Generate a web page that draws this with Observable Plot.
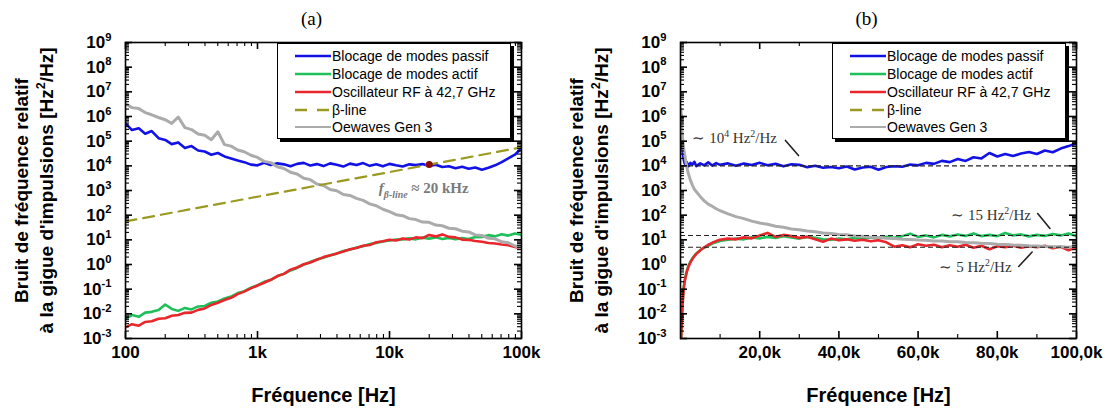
<!DOCTYPE html>
<html><head><meta charset="utf-8">
<script src="https://cdn.jsdelivr.net/npm/d3@7"></script>
<script src="https://cdn.jsdelivr.net/npm/@observablehq/plot@0.6"></script>
<style>
body{margin:0;background:#fff;}
#wrap{position:relative;width:1114px;height:409px;display:flex;overflow:hidden;}
#wrap svg{display:block;flex:none;}
.legend{position:absolute;top:43px;width:232px;height:94px;background:#fff;border:1px solid #000;box-shadow:3px 3px 0 #000;font-family:"Liberation Sans",Arial,sans-serif;font-size:14px;color:#000;}
.legend .row{position:absolute;left:17px;height:16px;display:flex;align-items:center;white-space:nowrap;}
.legend .row svg{margin-right:1px;}
</style>
</head><body>
<div id="wrap"></div>
<script>
// ---------- data (log10 of the spectral density) ----------
const freqA = [100,112,126,141,158,178,200,224,251,282,
  316,355,398,447,501,562,631,708,794,891,
  1000,1122,1259,1413,1585,1778,1995,2239,2512,2818,
  3162,3548,3981,4467,5012,5623,6310,7079,7943,8913,
  10000,11220,12589,14125,15849,17783,19953,22387,25119,28184,
  31623,35481,39811,44668,50119,56234,63096,70795,79433,89125,
  100000];
const passifA = [5.72,5.45,5.52,5.30,5.41,5.12,5.05,4.88,4.95,4.72,
  4.80,4.62,4.58,4.45,4.52,4.38,4.30,4.22,4.15,4.05,
  4.02,4.12,4.03,4.10,4.06,3.98,4.08,4.12,4.01,4.07,
  3.99,4.10,4.04,3.97,4.09,4.03,4.11,4.00,4.06,3.98,
  4.08,4.02,3.97,4.06,4.03,4.07,3.99,4.04,3.95,3.98,
  3.90,3.96,3.88,3.93,3.84,3.92,4.02,4.15,4.30,4.45,
  4.72];
const actifA = [-2.20,-2.05,-2.12,-1.95,-1.92,-1.84,-1.62,-1.80,-1.88,-1.76,
  -1.82,-1.70,-1.68,-1.55,-1.50,-1.38,-1.30,-1.16,-1.08,-0.94,
  -0.85,-0.70,-0.63,-0.48,-0.38,-0.24,-0.14,-0.01,0.10,0.20,
  0.27,0.37,0.44,0.55,0.60,0.69,0.74,0.83,0.87,0.93,
  0.97,1.01,1.02,1.06,1.02,1.09,1.05,1.10,1.03,1.08,
  1.02,1.07,1.03,1.11,1.12,1.19,1.14,1.23,1.17,1.26,
  1.20];
const oscA = [-2.55,-2.42,-2.48,-2.33,-2.30,-2.20,-2.18,-2.08,-2.05,-1.96,
  -1.95,-1.84,-1.78,-1.64,-1.55,-1.44,-1.35,-1.20,-1.10,-0.97,
  -0.85,-0.74,-0.62,-0.47,-0.38,-0.21,-0.12,0.01,0.08,0.19,
  0.30,0.37,0.45,0.53,0.62,0.67,0.76,0.79,0.90,0.94,
  1.00,0.97,1.05,1.01,1.10,1.07,1.20,1.14,1.22,1.12,
  1.10,1.01,1.00,0.95,0.92,0.87,0.85,0.81,0.78,0.71,
  0.66];
const oewA = [6.52,6.36,6.32,6.16,6.07,5.96,5.87,5.72,5.98,5.55,
  5.47,5.29,5.24,5.06,5.38,4.86,4.80,4.64,4.57,4.43,
  4.34,4.18,4.13,3.96,3.89,3.74,3.67,3.50,3.44,3.26,
  3.20,3.04,2.99,2.84,2.80,2.68,2.60,2.46,2.38,2.24,
  2.14,2.02,1.98,1.86,1.82,1.72,1.71,1.60,1.57,1.47,
  1.45,1.35,1.32,1.20,1.18,1.06,1.04,0.92,0.88,0.75,
  0.68];
const betaF = [100, 100000];
const betaS = [56, 56000];
const crossF = [20000];
const crossS = [11200];

const freqB = [100,200,400,600,800,1000,1300,1600,2000,2500,
  3000,3500,4000,5000,6000,7000,8000,9000,10000,12000,
  14000,16000,18000,20000,22000,24000,26000,28000,30000,32000,
  34000,36000,38000,40000,42000,44000,46000,48000,50000,52000,
  54000,56000,58000,60000,62000,64000,66000,68000,70000,72000,
  74000,76000,78000,80000,82000,84000,86000,88000,90000,92000,
  94000,96000,98000,100000];
const passifB = [6.10,5.60,4.90,4.50,4.25,4.12,4.02,4.15,3.98,4.12,
  4.05,4.16,3.99,4.10,4.02,4.14,4.01,4.11,4.04,4.10,
  4.00,4.09,4.03,4.12,4.02,4.08,3.98,4.06,4.04,3.94,
  4.00,3.92,3.95,3.90,3.97,3.85,3.93,3.96,3.84,3.95,
  3.98,3.96,4.05,4.02,4.12,4.08,4.20,4.15,4.28,4.20,
  4.35,4.30,4.52,4.38,4.48,4.40,4.50,4.56,4.48,4.62,
  4.55,4.70,4.80,4.92];
const actifB = [-3.40,-2.70,-1.90,-1.35,-0.95,-0.70,-0.45,-0.25,-0.05,0.12,
  0.25,0.35,0.45,0.58,0.68,0.76,0.85,0.90,0.95,1.00,
  1.05,1.02,1.10,1.06,1.12,1.08,1.15,1.10,1.05,1.12,
  1.08,1.02,1.00,1.05,1.02,1.08,1.04,1.10,1.06,1.12,
  1.08,1.15,1.25,1.12,1.18,1.10,1.20,1.14,1.22,1.16,
  1.26,1.15,1.20,1.15,1.28,1.18,1.22,1.14,1.20,1.16,
  1.24,1.18,1.26,1.15];
const oscB = [-3.60,-2.90,-2.05,-1.45,-1.00,-0.75,-0.50,-0.30,-0.10,0.08,
  0.22,0.34,0.43,0.58,0.70,0.80,0.88,0.95,1.00,1.05,
  1.02,1.10,1.06,1.18,1.28,1.12,1.20,1.15,1.08,1.12,
  1.02,0.92,1.05,0.98,1.02,0.96,1.00,0.94,0.98,0.90,
  0.72,0.78,0.70,0.82,0.76,0.80,0.70,0.78,0.72,0.80,
  0.68,0.76,0.62,0.74,0.70,0.76,0.68,0.74,0.70,0.76,
  0.66,0.72,0.58,0.70];
const oewB = [6.30,6.00,5.40,5.00,4.72,4.50,4.22,3.95,3.68,3.42,
  3.22,3.05,2.95,2.75,2.58,2.45,2.36,2.26,2.18,2.05,
  1.94,1.86,1.76,1.68,1.63,1.55,1.51,1.44,1.41,1.36,
  1.33,1.28,1.26,1.22,1.21,1.16,1.15,1.10,1.09,1.06,
  1.05,1.02,1.01,0.99,0.98,0.95,0.95,0.92,0.92,0.89,
  0.88,0.86,0.85,0.82,0.81,0.79,0.78,0.76,0.75,0.73,
  0.72,0.72,0.70,0.74];
const refLevels = [10000, 15, 5];

const yExponents = [-3,-2,-1,0,1,2,3,4,5,6,7,8,9];
const xTicksA = [100, 1000, 10000, 100000];
const xLabelsA = ["100", "1k", "10k", "100k"];
const xTicksB = [20000, 40000, 60000, 80000, 100000];
const xLabelsB = ["20,0k", "40,0k", "60,0k", "80,0k", "100,0k"];
const xMinorB = [10000, 30000, 50000, 70000, 90000];

const seriesNames = ["Blocage de modes passif", "Blocage de modes actif", "Oscillateur RF à 42,7 GHz", "β-line", "Oewaves Gen 3"];
const seriesColors = ["#1212e6", "#1ec05a", "#e8262b", "#9a9a22", "#ababab"];
const yTitle1 = "Bruit de fréquence relatif";
const yTitle2 = "à la gigue d'impulsions [Hz^{2}/Hz]";
const xTitle = "Fréquence [Hz]";

// ---------- layout ----------
const H = 409, MT = 42, MB = 71, ML = 125;
const SANS = "'Liberation Sans', Arial, Helvetica, sans-serif";
const SERIF = "'Liberation Serif', 'Times New Roman', serif";
const ph = H - MT - MB;

const yMajor = yExponents.map(e => 10 ** e);
const yMinor = [];
for (const e of yExponents.slice(0, -1)) for (let m = 2; m <= 9; m++) yMinor.push(m * 10 ** e);
const xMinorA = [];
for (const e of [2, 3, 4]) for (let m = 2; m <= 9; m++) xMinorA.push(m * 10 ** e);

const toV = arr => arr.map(e => 10 ** e);

function tickMarks(xMajor, xMinor, pw) {
  const s = {stroke: "#000"};
  return [
    Plot.tickX(xMajor, {x: d => d, insetTop: ph - 7, strokeWidth: 1.6, ...s}),
    Plot.tickX(xMajor, {x: d => d, insetBottom: ph - 7, strokeWidth: 1.6, ...s}),
    Plot.tickX(xMinor, {x: d => d, insetTop: ph - 4, strokeWidth: 1.1, ...s}),
    Plot.tickX(xMinor, {x: d => d, insetBottom: ph - 4, strokeWidth: 1.1, ...s}),
    Plot.tickY(yMajor, {y: d => d, insetRight: pw - 7, strokeWidth: 1.6, ...s}),
    Plot.tickY(yMajor, {y: d => d, insetLeft: pw - 7, strokeWidth: 1.6, ...s}),
    Plot.tickY(yMinor, {y: d => d, insetRight: pw - 4, strokeWidth: 1.1, ...s}),
    Plot.tickY(yMinor, {y: d => d, insetLeft: pw - 4, strokeWidth: 1.1, ...s})
  ];
}

function panel({width, marginRight, xScale, xMajor, xLabels, xMinor, data, extra, title}) {
  const pw = width - ML - marginRight;
  const [fr, passif, actif, osc, oew] = data;
  return Plot.plot({
    width, height: H, marginTop: MT, marginBottom: MB, marginLeft: ML, marginRight,
    x: xScale,
    y: {type: "log", domain: [1e-3, 1e9]},
    style: {fontFamily: SANS, fontSize: "17px", fontWeight: "bold", color: "#000", background: "#fff", overflow: "visible"},
    marks: [
      Plot.line(passif, {x: fr, y: toV(passif), stroke: seriesColors[0], strokeWidth: 2.6, clip: true}),
      Plot.line(actif, {x: fr, y: toV(actif), stroke: seriesColors[1], strokeWidth: 2.6, clip: true}),
      Plot.line(osc, {x: fr, y: toV(osc), stroke: seriesColors[2], strokeWidth: 2.6, clip: true}),
      Plot.line(oew, {x: fr, y: toV(oew), stroke: seriesColors[4], strokeWidth: 3, clip: true}),
      ...extra,
      Plot.frame({stroke: "#000", strokeWidth: 1.6}),
      ...tickMarks(xMajor, xMinor, pw),
      Plot.axisX(xMajor, {tickSize: 0, tickPadding: 7, tickFormat: d => xLabels[xMajor.indexOf(d)]}),
      Plot.axisY(yMajor, {tickSize: 0, tickPadding: 14, tickFormat: d => `10^{${Math.round(Math.log10(d))}}`}),
      Plot.text([yTitle1], {frameAnchor: "left", dx: -104, rotate: -90, textAnchor: "middle", lineAnchor: "middle", fontSize: 19, fontWeight: "bold"}),
      Plot.text([yTitle2], {frameAnchor: "left", dx: -79, rotate: -90, textAnchor: "middle", lineAnchor: "middle", fontSize: 19, fontWeight: "bold"}),
      Plot.text([xTitle], {frameAnchor: "bottom", dy: 57, textAnchor: "middle", lineAnchor: "middle", fontSize: 20, fontWeight: "bold"}),
      Plot.text([title], {frameAnchor: "top", dx: -12, dy: -24, textAnchor: "middle", lineAnchor: "middle", fontSize: 19, fontWeight: "normal", fontFamily: SERIF})
    ]
  });
}

const svgA = panel({
  width: 555, marginRight: 34,
  xScale: {type: "log", domain: [100, 100000]},
  xMajor: xTicksA, xLabels: xLabelsA, xMinor: xMinorA,
  data: [freqA, passifA, actifA, oscA, oewA],
  title: "(a)",
  extra: [
    Plot.line(betaS, {x: betaF, y: betaS, stroke: seriesColors[3], strokeWidth: 2.2, strokeDasharray: "11,7", clip: true}),
    Plot.dot(crossS, {x: crossF, y: crossS, r: 3.5, fill: "#8b0a0a", stroke: "none"}),
    Plot.text(["*{f}_{β-line} ≈ 20 kHz"], {x: [8300], y: [1200], textAnchor: "start", fontFamily: SERIF, fontSize: 15, fontWeight: "bold", fill: "#7a7a7a"})
  ]
});

const annB = [
  {x: 3000, y: 1.3e5, text: "∼ 10^{4} Hz^{2}/Hz"},
  {x: 68400, y: 98, text: "∼ 15 Hz^{2}/Hz"},
  {x: 65400, y: 0.76, text: "∼ 5 Hz^{2}/Hz"}
];
const arrowsB = [
  {x1: 26500, y1: 1.07e5, x2: 29800, y2: 2.6e4, bend: 70},
  {x1: 90200, y1: 117, x2: 93300, y2: 29, bend: 70},
  {x1: 85400, y1: 0.83, x2: 88800, y2: 3.2, bend: -70}
];

const svgB = panel({
  width: 559, marginRight: 38,
  xScale: {type: "linear", domain: [0, 100000]},
  xMajor: xTicksB, xLabels: xLabelsB, xMinor: xMinorB,
  data: [freqB, passifB, actifB, oscB, oewB],
  title: "(b)",
  extra: [
    Plot.ruleY(refLevels, {stroke: "#222", strokeWidth: 1.2, strokeDasharray: "5,3"}),
    Plot.text(annB, {x: "x", y: "y", text: "text", textAnchor: "start", fontFamily: SERIF, fontSize: 15, fontWeight: "normal", fill: "#333"}),
    Plot.arrow(arrowsB, {x1: "x1", y1: "y1", x2: "x2", y2: "y2", bend: d => d.bend, stroke: "#222", strokeWidth: 1.6, headLength: 7, headAngle: 70})
  ]
});

const wrap = document.getElementById("wrap");
wrap.appendChild(svgA);
wrap.appendChild(svgB);

// ---------- rich text: ^{sup}, _{sub}, *{italic} ----------
const NS = "http://www.w3.org/2000/svg";
function richify(el) {
  const s = el.textContent;
  if (!/[\^_*]\{/.test(s)) return;
  const fs = parseFloat(getComputedStyle(el).fontSize) || 16;
  while (el.firstChild) el.removeChild(el.firstChild);
  let shift = 0;
  const add = (txt, kind) => {
    if (!txt) return;
    const t = document.createElementNS(NS, "tspan");
    t.textContent = txt;
    const target = kind === "^" ? -0.42 * fs : kind === "_" ? 0.28 * fs : 0;
    const dy = target - shift;
    if (dy) t.setAttribute("dy", dy.toFixed(2));
    shift = target;
    if (kind === "^" || kind === "_") t.setAttribute("font-size", (0.66 * fs).toFixed(1));
    if (kind === "*" || kind === "_") t.setAttribute("font-style", "italic");
    el.appendChild(t);
  };
  const re = /([\^_*])\{([^}]*)\}/g;
  let last = 0, m;
  while ((m = re.exec(s))) {
    add(s.slice(last, m.index), "");
    add(m[2], m[1]);
    last = re.lastIndex;
  }
  add(s.slice(last), "");
}
wrap.querySelectorAll("text").forEach(richify);

// ---------- legends ----------
function legend(left) {
  const box = document.createElement("div");
  box.className = "legend";
  box.style.left = left + "px";
  const rowsTop = [4, 21.5, 39.5, 58, 75];
  seriesNames.forEach((name, i) => {
    const row = document.createElement("div");
    row.className = "row";
    row.style.top = rowsTop[i] + "px";
    const sw = i === 4 ? 1.8 : 2.6;
    const dash = i === 3 ? ' stroke-dasharray="12,10"' : "";
    row.innerHTML = `<svg width="36" height="10"><line x1="0" y1="5" x2="36" y2="5" stroke="${seriesColors[i]}" stroke-width="${sw}"${dash}/></svg><span>${name}</span>`;
    box.appendChild(row);
  });
  wrap.appendChild(box);
}
legend(277);
legend(832);
</script>
</body></html>
